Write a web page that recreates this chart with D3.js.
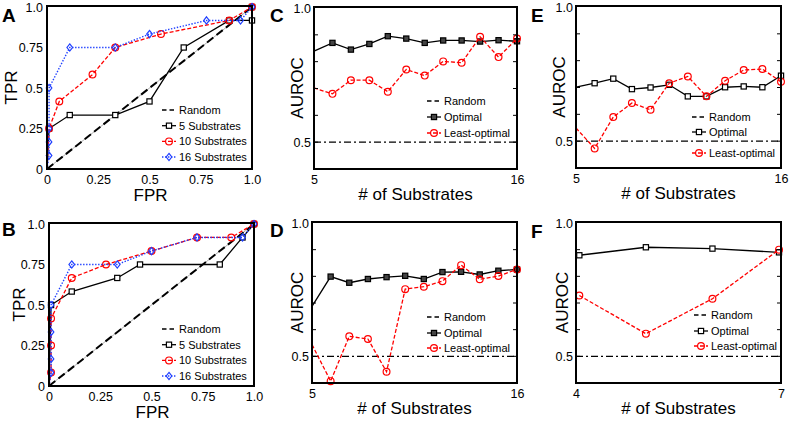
<!DOCTYPE html>
<html><head><meta charset="utf-8">
<script src="https://cdn.jsdelivr.net/npm/d3@7"></script>
<style>body{margin:0;background:#fff} text{font-family:"Liberation Sans",Arial,Helvetica,sans-serif;fill:#000}</style>
</head><body>
<svg id="c" width="790" height="422"></svg>
<script>
// ---------- DATA ----------
const rocTickValues = [0, 0.25, 0.5, 0.75, 1];
const rocTickLabels = ["0", "0.25", "0.5", "0.75", "1.0"];
const rocSeriesNames = ["5 Substrates", "10 Substrates", "16 Substrates"];

// Panel A ROC
const rocA_fpr5  = [0, 0.01, 0.111, 0.333, 0.5, 0.667, 0.889, 1.0, 1.0];
const rocA_tpr5  = [0, 0.25, 0.333, 0.333, 0.417, 0.75, 0.917, 0.917, 1.0];
const rocA_fpr10 = [0, 0.01, 0.06, 0.222, 0.333, 0.556, 0.889, 1.0];
const rocA_tpr10 = [0, 0.25, 0.417, 0.583, 0.75, 0.833, 0.917, 1.0];
const rocA_fpr16 = [0, 0.01, 0.01, 0.01, 0.01, 0.111, 0.333, 0.5, 0.778, 0.944, 1.0];
const rocA_tpr16 = [0, 0.083, 0.167, 0.25, 0.5, 0.75, 0.75, 0.833, 0.917, 0.917, 1.0];

// Panel B ROC
const rocB_fpr5  = [0, 0.01, 0.111, 0.333, 0.444, 0.833, 0.944, 1.0];
const rocB_tpr5  = [0, 0.5, 0.583, 0.667, 0.75, 0.75, 0.917, 1.0];
const rocB_fpr10 = [0, 0.01, 0.01, 0.01, 0.111, 0.278, 0.5, 0.722, 0.889, 1.0];
const rocB_tpr10 = [0, 0.083, 0.25, 0.417, 0.667, 0.75, 0.833, 0.917, 0.917, 1.0];
const rocB_fpr16 = [0, 0.01, 0.01, 0.01, 0.01, 0.111, 0.333, 0.5, 0.722, 0.944, 1.0];
const rocB_tpr16 = [0, 0.083, 0.167, 0.333, 0.5, 0.75, 0.75, 0.833, 0.917, 0.917, 1.0];

// AUROC panels
const aurocSeriesNames = ["Random", "Optimal", "Least-optimal"];
const randomAUROC = 0.5;
const aurocTickLabels = [0.5, 1.0];
const aurocMinorTicks = [0.5, 0.6, 0.7, 0.8, 0.9];
const substratesCDE = [5, 6, 7, 8, 9, 10, 11, 12, 13, 14, 15, 16];
const substratesF = [4, 5, 6, 7];

const aurocC_opt   = [0.839, 0.870, 0.845, 0.866, 0.895, 0.886, 0.870, 0.879, 0.879, 0.875, 0.880, 0.876];
const aurocC_least = [0.702, 0.680, 0.731, 0.731, 0.688, 0.771, 0.748, 0.801, 0.796, 0.893, 0.817, 0.886];
const aurocD_opt   = [0.687, 0.799, 0.776, 0.790, 0.797, 0.802, 0.790, 0.816, 0.817, 0.807, 0.821, 0.826];
const aurocD_least = [0.544, 0.407, 0.575, 0.565, 0.442, 0.752, 0.761, 0.782, 0.842, 0.789, 0.801, 0.826];
const aurocE_opt   = [0.701, 0.716, 0.733, 0.694, 0.700, 0.710, 0.667, 0.667, 0.701, 0.704, 0.701, 0.744];
const aurocE_least = [0.549, 0.473, 0.590, 0.642, 0.617, 0.716, 0.741, 0.667, 0.725, 0.765, 0.769, 0.721];
const aurocF_opt   = [0.879, 0.909, 0.904, 0.890];
const aurocF_least = [0.728, 0.585, 0.716, 0.900];

// ---------- DRAWING ----------
const svg = d3.select("#c");
const FONT = 12.5;

function zip(xs, ys) { return xs.map((x, i) => ({x: x, y: ys[i]})); }

function marker(g, type, x, y, fill) {
  if (type === "square") {
    g.append("rect").attr("x", x - 2.6).attr("y", y - 2.6).attr("width", 5.2).attr("height", 5.2)
      .attr("fill", fill || "#fff").attr("stroke", "#000").attr("stroke-width", 1.2);
  } else if (type === "circle") {
    g.append("circle").attr("cx", x).attr("cy", y).attr("r", 3.4)
      .attr("fill", "none").attr("stroke", "#ff0000").attr("stroke-width", 1.2);
  } else if (type === "diamond") {
    g.append("path").attr("d", `M${x},${y-3.6}L${x+2.8},${y}L${x},${y+3.6}L${x-2.8},${y}Z`)
      .attr("fill", "none").attr("stroke", "#1f3fff").attr("stroke-width", 1.2);
  }
}

const styles = {
  black: {stroke: "#000", dash: null, w: 1.3, m: "square"},
  red:   {stroke: "#ff0000", dash: "4,2", w: 1.3, m: "circle"},
  blue:  {stroke: "#1f3fff", dash: "1.4,1.6", w: 1.4, m: "diamond"}
};

function drawSeries(g, data, xs, ys, st, sqFill, minX) {
  const line = d3.line().x(d => xs(d.x)).y(d => ys(d.y));
  g.append("path").datum(data).attr("d", line).attr("fill", "none")
    .attr("stroke", st.stroke).attr("stroke-width", st.w)
    .attr("stroke-dasharray", st.dash);
  data.forEach(d => {
    if (d.x <= minX && d.y <= 0) return;
    if (minX !== undefined && d.x <= minX && st.skipEdge) return;
    marker(g, st.m, xs(d.x), ys(d.y), sqFill);
  });
}

function legend(g, x, rows) {
  rows.forEach(r => {
    const y = r.y;
    if (r.kind === "random") {
      g.append("line").attr("x1", x).attr("x2", x + 14).attr("y1", y).attr("y2", y)
        .attr("stroke", "#000").attr("stroke-width", r.w || 1.3).attr("stroke-dasharray", "4.5,3");
    } else {
      const st = styles[r.kind];
      g.append("line").attr("x1", x).attr("x2", x + 14).attr("y1", y).attr("y2", y)
        .attr("stroke", st.stroke).attr("stroke-width", st.w).attr("stroke-dasharray", st.dash);
      marker(g, st.m, x + 7, y, r.fill);
    }
    g.append("text").attr("x", x + 17).attr("y", y + 4).attr("font-size", 11).text(r.text);
  });
}

function panelLabel(x, y, t) {
  svg.append("text").attr("x", x).attr("y", y).attr("font-size", 19).attr("font-weight", "bold").text(t);
}

function yLabel(x, yc, t) {
  svg.append("text").attr("transform", `translate(${x},${yc}) rotate(-90)`)
    .attr("text-anchor", "middle").attr("font-size", 17).text(t);
}

function box(b) {
  svg.append("rect").attr("x", b.L).attr("y", b.T).attr("width", b.R - b.L).attr("height", b.B - b.T)
    .attr("fill", "none").attr("stroke", "#000").attr("stroke-width", 2);
}

function rocPanel(b, s5, s10, s16, legX, legY0, lab, labY, yLabX) {
  const xs = d3.scaleLinear().domain([0, 1]).range([b.L, b.R]);
  const ys = d3.scaleLinear().domain([0, 1]).range([b.B, b.T + 1]);
  const g = svg.append("g");
  // random diagonal: thin grey + thick dashed black
  g.append("line").attr("x1", xs(0)).attr("y1", ys(0)).attr("x2", xs(1)).attr("y2", ys(1))
    .attr("stroke", "#999").attr("stroke-width", 0.8);
  g.append("line").attr("x1", xs(0)).attr("y1", ys(0)).attr("x2", xs(1)).attr("y2", ys(1))
    .attr("stroke", "#000").attr("stroke-width", 2).attr("stroke-dasharray", "8,4");
  drawSeries(g, s5, xs, ys, styles.black, "#fff", 0);
  drawSeries(g, s10, xs, ys, styles.red, null, 0);
  drawSeries(g, s16, xs, ys, styles.blue, null, 0);
  box(b);
  const ya = svg.append("g").attr("transform", `translate(${b.L},0)`)
    .call(d3.axisLeft(ys).tickValues(rocTickValues).tickFormat((d, i) => rocTickLabels[i]).tickSize(0).tickPadding(4));
  const xa = svg.append("g").attr("transform", `translate(0,${b.B})`)
    .call(d3.axisBottom(xs).tickValues(rocTickValues).tickFormat((d, i) => rocTickLabels[i]).tickSize(0).tickPadding(6));
  [ya, xa].forEach(a => { a.select(".domain").remove(); a.selectAll("text").attr("font-size", FONT).attr("font-family", null).attr("fill", "#000"); });
  svg.append("text").attr("x", (b.L + b.R) / 2 + 1).attr("y", b.B + 32).attr("text-anchor", "middle").attr("font-size", 17).text("FPR");
  yLabel(yLabX, (b.T + b.B) / 2, "TPR");
  legend(svg.append("g"), legX, [
    {kind: "random", text: "Random", y: legY0, w: 1.6},
    {kind: "black", text: rocSeriesNames[0], y: legY0 + 15.7, fill: "#fff"},
    {kind: "red", text: rocSeriesNames[1], y: legY0 + 31.4},
    {kind: "blue", text: rocSeriesNames[2], y: legY0 + 47}
  ]);
  panelLabel(2, labY, lab);
}

function aurocPanel(b, xvals, xDomain, opt, least, sqFill, legX, legYs, lab, labX, labY, yLabX) {
  const xs = d3.scaleLinear().domain(xDomain).range([b.L, b.R]);
  const ys = d3.scaleLinear().domain([0.4, 1.0]).range([b.B, b.T + 1]);
  const g = svg.append("g");
  g.append("line").attr("x1", b.L).attr("x2", b.R).attr("y1", ys(randomAUROC)).attr("y2", ys(randomAUROC))
    .attr("stroke", "#000").attr("stroke-width", 1.3).attr("stroke-dasharray", "7,3,2,3");
  const sOpt = Object.assign({}, styles.black, {skipEdge: true});
  const sLeast = Object.assign({}, styles.red, {skipEdge: true});
  drawSeries(g, zip(xvals, opt), xs, ys, sOpt, sqFill, xDomain[0]);
  drawSeries(g, zip(xvals, least), xs, ys, sLeast, null, xDomain[0]);
  box(b);
  // minor inward ticks on both sides
  aurocMinorTicks.forEach(v => {
    svg.append("line").attr("x1", b.L).attr("x2", b.L + 4).attr("y1", ys(v)).attr("y2", ys(v)).attr("stroke", "#000").attr("stroke-width", 1);
    svg.append("line").attr("x1", b.R - 4).attr("x2", b.R).attr("y1", ys(v)).attr("y2", ys(v)).attr("stroke", "#000").attr("stroke-width", 1);
  });
  const ya = svg.append("g").attr("transform", `translate(${b.L},0)`)
    .call(d3.axisLeft(ys).tickValues(aurocTickLabels).tickFormat(d3.format(".1f")).tickSize(0).tickPadding(3));
  const xa = svg.append("g").attr("transform", `translate(0,${b.B})`)
    .call(d3.axisBottom(xs).tickValues(xDomain).tickFormat(d => String(Math.round(d))).tickSize(0).tickPadding(6));
  [ya, xa].forEach(a => { a.select(".domain").remove(); a.selectAll("text").attr("font-size", FONT).attr("font-family", null).attr("fill", "#000"); });
  svg.append("text").attr("x", (b.L + b.R) / 2).attr("y", b.B + 31).attr("text-anchor", "middle").attr("font-size", 17).text("# of Substrates");
  yLabel(yLabX, (b.T + b.B) / 2, "AUROC");
  legend(svg.append("g"), legX, [
    {kind: "random", text: aurocSeriesNames[0], y: legYs[0]},
    {kind: "black", text: aurocSeriesNames[1], y: legYs[1], fill: sqFill},
    {kind: "red", text: aurocSeriesNames[2], y: legYs[2]}
  ]);
  panelLabel(labX, labY, lab);
}

rocPanel({L: 47, R: 252, T: 6, B: 169}, zip(rocA_fpr5, rocA_tpr5), zip(rocA_fpr10, rocA_tpr10), zip(rocA_fpr16, rocA_tpr16),
  162, 110, "A", 22, 17);
rocPanel({L: 49, R: 254, T: 223, B: 386}, zip(rocB_fpr5, rocB_tpr5), zip(rocB_fpr10, rocB_tpr10), zip(rocB_fpr16, rocB_tpr16),
  162, 329, "B", 236, 25);

aurocPanel({L: 314, R: 517, T: 7, B: 169}, substratesCDE, [5, 16], aurocC_opt, aurocC_least, "#444",
  427, [101, 117, 133], "C", 270, 22, 303);
aurocPanel({L: 312, R: 517, T: 222, B: 383}, substratesCDE, [5, 16], aurocD_opt, aurocD_least, "#444",
  427, [317, 333, 348], "D", 270, 237, 303);
aurocPanel({L: 576, R: 781, T: 6, B: 168}, substratesCDE, [5, 16], aurocE_opt, aurocE_least, "#fff",
  692, [117, 132, 153], "E", 531, 22, 565);
aurocPanel({L: 576, R: 781, T: 222, B: 383}, substratesF, [3.95, 7.03], aurocF_opt, aurocF_least, "#fff",
  694, [315, 331, 346], "F", 531, 238, 568);
</script>
</body></html>
